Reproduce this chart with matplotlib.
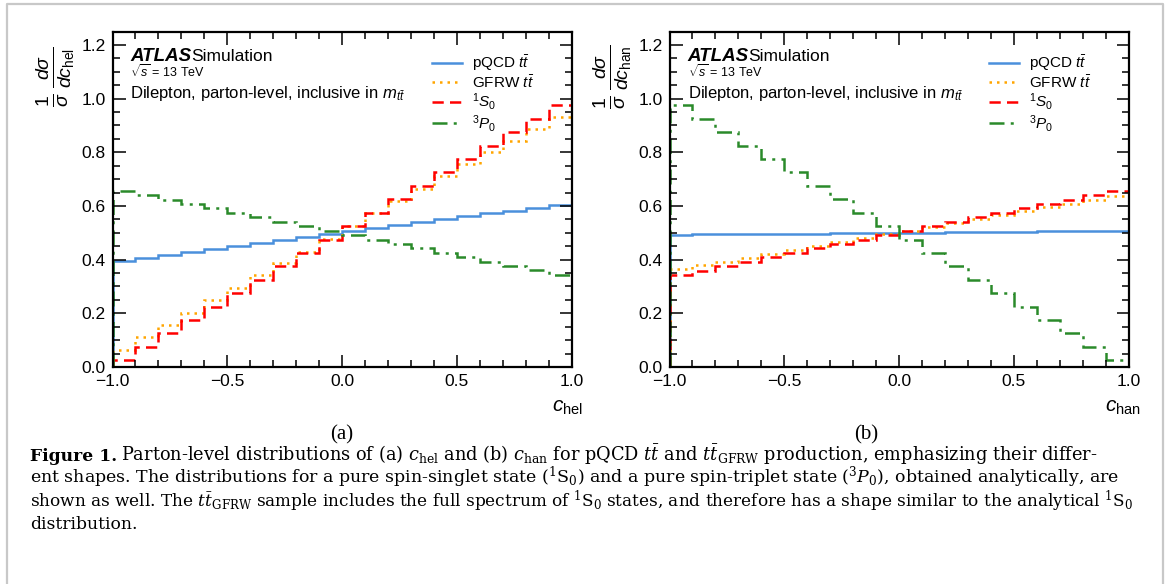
import matplotlib.pyplot as plt
import numpy as np
from matplotlib.lines import Line2D
from matplotlib.ticker import MultipleLocator

plt.rcParams['font.family'] = ['Liberation Sans', 'DejaVu Sans']
plt.rcParams['mathtext.fontset'] = 'custom'
plt.rcParams['mathtext.rm'] = 'Liberation Sans'
plt.rcParams['mathtext.it'] = 'Liberation Sans:italic'
plt.rcParams['mathtext.bf'] = 'Liberation Sans:bold'

################################################################################################
# data: 20 bins between -1 and 1
bin_edges = np.linspace(-1.0, 1.0, 21)

hel_pqcd = [0.395, 0.406, 0.417, 0.428, 0.439, 0.450, 0.461, 0.472, 0.483, 0.494,
            0.506, 0.517, 0.528, 0.539, 0.550, 0.561, 0.572, 0.583, 0.594, 0.605]
hel_gfrw = [0.065, 0.110, 0.156, 0.203, 0.248, 0.295, 0.342, 0.388, 0.430, 0.477,
            0.524, 0.572, 0.620, 0.665, 0.710, 0.755, 0.800, 0.843, 0.887, 0.930]
hel_1s0 = [0.025, 0.075, 0.125, 0.175, 0.225, 0.275, 0.325, 0.375, 0.425, 0.475,
           0.525, 0.575, 0.625, 0.675, 0.725, 0.775, 0.825, 0.875, 0.925, 0.975]
hel_3p0 = [0.657, 0.641, 0.624, 0.608, 0.591, 0.575, 0.558, 0.542, 0.525, 0.508,
           0.492, 0.475, 0.459, 0.442, 0.426, 0.409, 0.393, 0.376, 0.360, 0.343]

han_pqcd = [0.493, 0.494, 0.494, 0.495, 0.496, 0.497, 0.497, 0.498, 0.499, 0.499,
            0.501, 0.501, 0.502, 0.503, 0.503, 0.504, 0.505, 0.506, 0.506, 0.507]
han_gfrw = [0.364, 0.379, 0.391, 0.406, 0.421, 0.436, 0.451, 0.466, 0.480, 0.494,
            0.508, 0.522, 0.538, 0.553, 0.567, 0.580, 0.595, 0.608, 0.624, 0.638]
han_1s0 = [0.343, 0.359, 0.376, 0.392, 0.409, 0.425, 0.442, 0.458, 0.475, 0.492,
           0.508, 0.525, 0.541, 0.558, 0.575, 0.591, 0.608, 0.624, 0.641, 0.657]
han_3p0 = [0.975, 0.925, 0.875, 0.825, 0.775, 0.725, 0.675, 0.625, 0.575, 0.525,
           0.475, 0.425, 0.375, 0.325, 0.275, 0.225, 0.175, 0.125, 0.075, 0.025]

series_labels = [r'pQCD $t\bar{t}$', r'GFRW $t\bar{t}$', r'$^{1}S_{0}$', r'$^{3}P_{0}$']
xtick_values = [-1.0, -0.5, 0.0, 0.5, 1.0]
ytick_values = [0.0, 0.2, 0.4, 0.6, 0.8, 1.0, 1.2]

caption_lines = [
    r'Parton-level distributions of (a) $c_{\mathrm{hel}}$ and (b) $c_{\mathrm{han}}$ for pQCD $t\bar{t}$'
    r' and $t\bar{t}_{\mathrm{GFRW}}$ production, emphasizing their differ-',
    r'ent shapes. The distributions for a pure spin-singlet state ($^{1}\mathrm{S}_{0}$) and a pure'
    r' spin-triplet state ($^{3}P_{0}$), obtained analytically, are',
    r'shown as well. The $t\bar{t}_{\mathrm{GFRW}}$ sample includes the full spectrum of $^{1}\mathrm{S}_{0}$'
    r' states, and therefore has a shape similar to the analytical $^{1}\mathrm{S}_{0}$',
    'distribution.',
]

################################################################################################

W, H = 1167, 584
fig = plt.figure(figsize=(W / 100, H / 100), dpi=100)


def fx(x):
    return x / W


def fy(y):
    return 1 - y / H


def draw_panel(left_px, values, var):
    ax = fig.add_axes([fx(left_px), fy(367), 459 / W, (367 - 32.3) / H])
    pqcd, gfrw, s0, p0 = values

    ax.stairs(pqcd, bin_edges, color='#4a90dc', lw=1.8, label=series_labels[0])
    ax.stairs(gfrw, bin_edges, color='#ffa500', lw=1.8, linestyle=(0, (1, 2)), label=series_labels[1])
    ax.stairs(s0, bin_edges, color='#ff0000', lw=1.8, linestyle=(0, (4.5, 2.5)), label=series_labels[2])
    ax.stairs(p0, bin_edges, color='#2a8a2a', lw=1.8, linestyle=(0, (6, 2.5, 1.2, 2.5)), label=series_labels[3])

    ax.set_xlim(-1, 1)
    ax.set_ylim(0, 1.247)
    ax.set_xticks(xtick_values)
    ax.set_yticks(ytick_values)
    ax.set_xticklabels([f'{v:.1f}'.replace('-', '\u2212') for v in xtick_values])
    ax.set_yticklabels([f'{v:.1f}' for v in ytick_values])
    ax.xaxis.set_minor_locator(MultipleLocator(0.1))
    ax.yaxis.set_minor_locator(MultipleLocator(0.05))
    ax.tick_params(which='both', direction='in', top=True, right=True, width=1.1, labelsize=12.5)
    ax.tick_params(which='major', length=9, pad=5)
    ax.tick_params(which='minor', length=5)
    for s in ax.spines.values():
        s.set_linewidth(1.6)

    # legend
    ax.legend(loc='upper left', bbox_to_anchor=(0.6954, 0.938), frameon=False, fontsize=11,
              handlelength=2.0, handletextpad=0.65, labelspacing=0.05, borderpad=0, borderaxespad=0)

    # ATLAS labels
    x0 = left_px + 18
    fig.text(fx(x0), fy(61), 'ATLAS', fontsize=13.5, fontweight='bold', fontstyle='italic', va='baseline')
    fig.text(fx(x0 + 61), fy(61), 'Simulation', fontsize=12.5, va='baseline')
    fig.text(fx(x0), fy(77), r'$\sqrt{s}$ = 13 TeV', fontsize=9, va='baseline')
    fig.text(fx(x0), fy(98), r'Dilepton, parton-level, inclusive in $m_{t\bar{t}}$', fontsize=12, va='baseline')

    # axis labels
    ax.text(1.0 + 12 / 459, -0.122, r'$c_{\mathrm{%s}}$' % var, transform=ax.transAxes,
            ha='right', va='center', fontsize=15)
    fig.text(fx(left_px - 57), fy(77), r'$\frac{1}{\sigma}\,\frac{d\sigma}{dc_{\mathrm{%s}}}$' % var,
             rotation=90, ha='center', va='center', fontsize=20)
    return ax


draw_panel(112.5, (hel_pqcd, hel_gfrw, hel_1s0, hel_3p0), 'hel')
draw_panel(669.5, (han_pqcd, han_gfrw, han_1s0, han_3p0), 'han')

# sub-figure labels
fig.text(fx(342), fy(435), '(a)', fontsize=15, family='Liberation Serif', ha='center', va='center')
fig.text(fx(866), fy(435), '(b)', fontsize=15, family='Liberation Serif', ha='center', va='center')

# page frame
frame_col = '#c8c8c8'
fig.add_artist(Line2D([fx(7), fx(7), fx(1163), fx(1163)], [0, fy(4), fy(4), 0],
                      transform=fig.transFigure, color=frame_col, lw=1.6))

# caption, each line squeezed to the width it has in the printed figure
renderer = fig.canvas.get_renderer()
cap_size = 12.3
cap_kw = dict(family='DejaVu Serif', math_fontfamily='dejavuserif', va='baseline')
line_right = [1125, 1120, 1135, None]
line_base = [461, 483, 507, 529]

bold = fig.text(fx(30), fy(line_base[0]), 'Figure 1.', fontweight='bold', fontsize=cap_size, **cap_kw)
bw = bold.get_window_extent(renderer=renderer).width
for i, line in enumerate(caption_lines):
    x_left = 30 + bw + 4 if i == 0 else 30
    t = fig.text(fx(x_left), fy(line_base[i]), line, fontsize=cap_size, **cap_kw)
    if line_right[i] is not None:
        w = t.get_window_extent(renderer=renderer).width
        t.set_fontsize(min(cap_size * (line_right[i] - x_left) / w, 12.8))

fig.savefig('out.png', dpi=100)
plt.close(fig)
